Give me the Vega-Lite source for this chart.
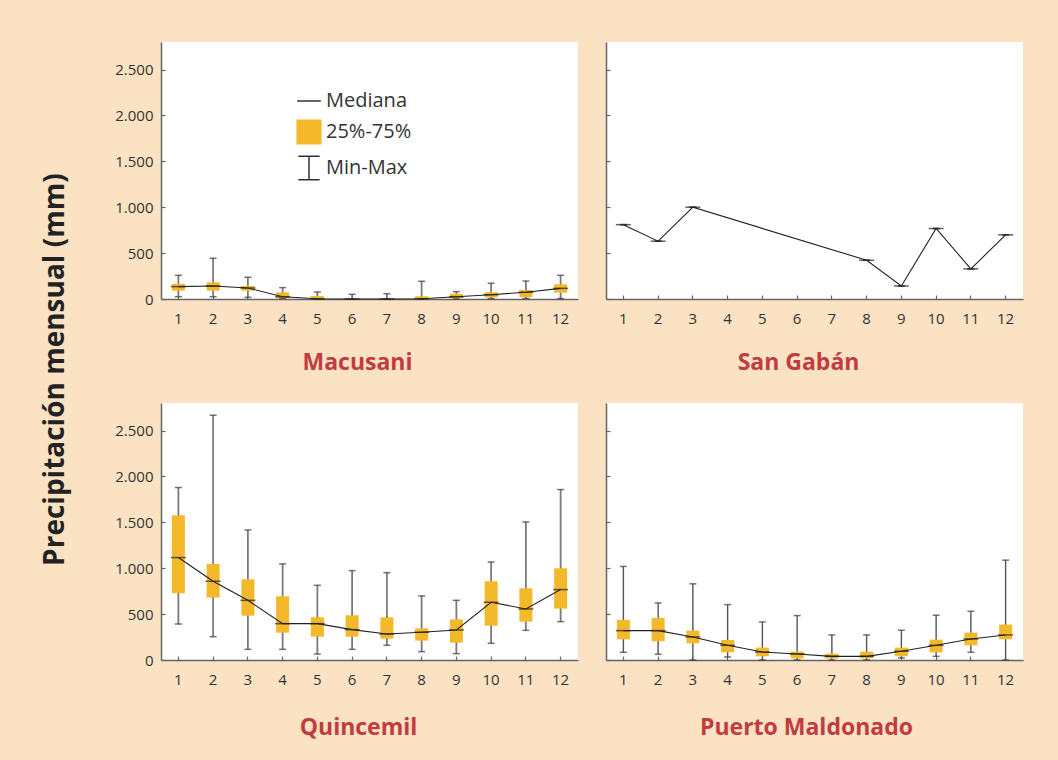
{
  "$schema": "https://vega.github.io/schema/vega-lite/v6.json",
  "background": "#FAE2C3",
  "padding": {"left": 41, "top": 39, "right": 36, "bottom": 20},
  "title": {"text": "Precipitación mensual (mm)", "orient": "left", "anchor": "middle", "fontSize": 28, "font": "Open Sans", "fontWeight": "bold", "color": "#222222", "offset": 45, "dx": 20},
  "datasets": {
    "stats": [
      {"station": "Macusani", "month": 1, "min": 25, "q1": 91, "median": 135, "q3": 164, "max": 258},
      {"station": "Macusani", "month": 2, "min": 25, "q1": 91, "median": 142, "q3": 182, "max": 444},
      {"station": "Macusani", "month": 3, "min": 18, "q1": 91, "median": 120, "q3": 142, "max": 237},
      {"station": "Macusani", "month": 4, "min": 7, "q1": 7, "median": 25, "q3": 73, "max": 124},
      {"station": "Macusani", "month": 5, "min": 0, "q1": 0, "median": 2, "q3": 33, "max": 76},
      {"station": "Macusani", "month": 6, "min": 0, "q1": 0, "median": 0, "q3": 0, "max": 51},
      {"station": "Macusani", "month": 7, "min": 0, "q1": 0, "median": 0, "q3": 0, "max": 58},
      {"station": "Macusani", "month": 8, "min": 0, "q1": 0, "median": 2, "q3": 30, "max": 193},
      {"station": "Macusani", "month": 9, "min": 0, "q1": 5, "median": 25, "q3": 55, "max": 80},
      {"station": "Macusani", "month": 10, "min": 5, "q1": 18, "median": 47, "q3": 73, "max": 171},
      {"station": "Macusani", "month": 11, "min": 5, "q1": 20, "median": 73, "q3": 98, "max": 196},
      {"station": "Macusani", "month": 12, "min": 5, "q1": 69, "median": 116, "q3": 160, "max": 258},
      {"station": "San Gabán", "month": 1, "min": 810, "q1": 810, "median": 810, "q3": 810, "max": 810},
      {"station": "San Gabán", "month": 2, "min": 630, "q1": 630, "median": 630, "q3": 630, "max": 630},
      {"station": "San Gabán", "month": 3, "min": 1000, "q1": 1000, "median": 1000, "q3": 1000, "max": 1000},
      {"station": "San Gabán", "month": 8, "min": 422, "q1": 422, "median": 422, "q3": 422, "max": 422},
      {"station": "San Gabán", "month": 9, "min": 142, "q1": 142, "median": 142, "q3": 142, "max": 142},
      {"station": "San Gabán", "month": 10, "min": 768, "q1": 768, "median": 768, "q3": 768, "max": 768},
      {"station": "San Gabán", "month": 11, "min": 328, "q1": 328, "median": 328, "q3": 328, "max": 328},
      {"station": "San Gabán", "month": 12, "min": 699, "q1": 699, "median": 699, "q3": 699, "max": 699},
      {"station": "Quincemil", "month": 1, "min": 392, "q1": 727, "median": 1116, "q3": 1577, "max": 1879},
      {"station": "Quincemil", "month": 2, "min": 254, "q1": 680, "median": 858, "q3": 1047, "max": 2667},
      {"station": "Quincemil", "month": 3, "min": 116, "q1": 483, "median": 650, "q3": 879, "max": 1417},
      {"station": "Quincemil", "month": 4, "min": 116, "q1": 298, "median": 396, "q3": 694, "max": 1047},
      {"station": "Quincemil", "month": 5, "min": 65, "q1": 254, "median": 396, "q3": 465, "max": 814},
      {"station": "Quincemil", "month": 6, "min": 116, "q1": 254, "median": 331, "q3": 487, "max": 974},
      {"station": "Quincemil", "month": 7, "min": 160, "q1": 233, "median": 283, "q3": 465, "max": 952},
      {"station": "Quincemil", "month": 8, "min": 91, "q1": 211, "median": 302, "q3": 345, "max": 698},
      {"station": "Quincemil", "month": 9, "min": 69, "q1": 189, "median": 327, "q3": 443, "max": 650},
      {"station": "Quincemil", "month": 10, "min": 182, "q1": 374, "median": 629, "q3": 858, "max": 1068},
      {"station": "Quincemil", "month": 11, "min": 323, "q1": 418, "median": 556, "q3": 781, "max": 1504},
      {"station": "Quincemil", "month": 12, "min": 418, "q1": 560, "median": 767, "q3": 999, "max": 1857},
      {"station": "Puerto Maldonado", "month": 1, "min": 84, "q1": 226, "median": 320, "q3": 437, "max": 1019},
      {"station": "Puerto Maldonado", "month": 2, "min": 62, "q1": 204, "median": 320, "q3": 458, "max": 622},
      {"station": "Puerto Maldonado", "month": 3, "min": 0, "q1": 182, "median": 251, "q3": 320, "max": 830},
      {"station": "Puerto Maldonado", "month": 4, "min": 33, "q1": 84, "median": 160, "q3": 218, "max": 604},
      {"station": "Puerto Maldonado", "month": 5, "min": 0, "q1": 40, "median": 87, "q3": 135, "max": 415},
      {"station": "Puerto Maldonado", "month": 6, "min": 0, "q1": 18, "median": 66, "q3": 91, "max": 484},
      {"station": "Puerto Maldonado", "month": 7, "min": 0, "q1": 18, "median": 40, "q3": 69, "max": 273},
      {"station": "Puerto Maldonado", "month": 8, "min": 0, "q1": 18, "median": 40, "q3": 91, "max": 273},
      {"station": "Puerto Maldonado", "month": 9, "min": 22, "q1": 40, "median": 95, "q3": 135, "max": 324},
      {"station": "Puerto Maldonado", "month": 10, "min": 40, "q1": 84, "median": 160, "q3": 222, "max": 488},
      {"station": "Puerto Maldonado", "month": 11, "min": 84, "q1": 160, "median": 229, "q3": 298, "max": 531},
      {"station": "Puerto Maldonado", "month": 12, "min": 0, "q1": 226, "median": 273, "q3": 386, "max": 1088}
    ],
    "legendItems": [
      {"item": "Mediana"},
      {"item": "25%-75%"},
      {"item": "Min-Max"}
    ]
  },
  "spacing": 28,
  "resolve": {"scale": {"shape": "independent", "stroke": "independent", "fill": "independent"}, "legend": {"shape": "independent", "stroke": "independent", "fill": "independent"}},
  "vconcat": [
    {
      "spacing": 27,
      "resolve": {"scale": {"shape": "independent", "stroke": "independent", "fill": "independent"}, "legend": {"shape": "independent", "stroke": "independent", "fill": "independent"}},
      "hconcat": [
        {
          "width": 417, "height": 257,
          "data": {"name": "stats"},
          "transform": [{"filter": "datum.station === 'Macusani'"}],
          "title": {"text": "Macusani", "dx": -12},
          "encoding": {"x": {"field": "month", "type": "ordinal", "scale": {"domain": [1,2,3,4,5,6,7,8,9,10,11,12], "paddingInner": 0, "paddingOuter": 0}, "axis": {"title": null}}},
          "layer": [
            {"mark": {"type": "rule", "color": "#7a7a7a", "strokeWidth": 1.8}, "encoding": {"y": {"field": "min", "type": "quantitative", "scale": {"domain": [0, 2800], "nice": false}, "axis": {"title": null, "values": [0,500,1000,1500,2000,2500], "labelExpr": "replace(format(datum.value, ','), ',', '.')"}}, "y2": {"field": "max"}}},
            {"mark": {"type": "bar", "color": "#F3B92A", "size": 13}, "encoding": {"y": {"field": "q1", "type": "quantitative"}, "y2": {"field": "q3"}}},
            {"mark": {"type": "tick", "color": "#3a3a3a", "size": 7, "thickness": 1.5}, "encoding": {"y": {"field": "min", "type": "quantitative"}}},
            {"mark": {"type": "tick", "color": "#3a3a3a", "size": 7, "thickness": 1.5}, "encoding": {"y": {"field": "max", "type": "quantitative"}}},
            {"mark": {"type": "line", "color": "#222222", "strokeWidth": 1.1}, "encoding": {"y": {"field": "median", "type": "quantitative"}}},
            {"mark": {"type": "tick", "color": "#222222", "size": 15, "thickness": 1.5}, "encoding": {"y": {"field": "median", "type": "quantitative"}}},
            {
              "data": {"name": "legendItems"},
              "mark": {"type": "point", "opacity": 0, "filled": true, "strokeWidth": 1.5},
              "encoding": {
                "x": {"value": 0},
                "y": {"value": 0},
                "shape": {
                  "field": "item", "type": "nominal",
                  "scale": {"domain": ["Mediana", "25%-75%", "Min-Max"], "range": ["M-1,0L1,0", "square", "M-0.9,-1L0.9,-1M0,-1L0,1M-0.9,1L0.9,1"]},
                  "legend": {
                    "orient": "none", "legendX": 135, "legendY": 46, "title": null, "padding": 0,
                    "symbolSize": 560, "symbolStrokeWidth": 1.5, "symbolOpacity": 1,
                    "labelFont": "Open Sans", "labelFontSize": 20, "labelColor": "#333333", "labelOffset": 4,
                    "rowPadding": 6
                  }
                },
                "stroke": {
                  "field": "item", "type": "nominal",
                  "scale": {"domain": ["Mediana", "25%-75%", "Min-Max"], "range": ["#333333", "#F3B92A", "#333333"]}
                },
                "fill": {
                  "field": "item", "type": "nominal",
                  "scale": {"domain": ["Mediana", "25%-75%", "Min-Max"], "range": ["transparent", "#F3B92A", "transparent"]}
                }
              }
            }
          ]
        },
        {
          "width": 417, "height": 257,
          "data": {"name": "stats"},
          "transform": [{"filter": "datum.station === 'San Gabán'"}],
          "title": {"text": "San Gabán", "dx": -16},
          "encoding": {"x": {"field": "month", "type": "ordinal", "scale": {"domain": [1,2,3,4,5,6,7,8,9,10,11,12], "paddingInner": 0, "paddingOuter": 0}, "axis": {"title": null}}},
          "layer": [
            {"mark": {"type": "rule", "color": "#7a7a7a", "strokeWidth": 1.8}, "encoding": {"y": {"field": "min", "type": "quantitative", "scale": {"domain": [0, 2800], "nice": false}, "axis": {"title": null, "labels": false, "values": [0,500,1000,1500,2000,2500]}}, "y2": {"field": "max"}}},
            {"mark": {"type": "bar", "color": "#F3B92A", "size": 13}, "encoding": {"y": {"field": "q1", "type": "quantitative"}, "y2": {"field": "q3"}}},
            {"mark": {"type": "tick", "color": "#3a3a3a", "size": 7, "thickness": 1.5}, "encoding": {"y": {"field": "min", "type": "quantitative"}}},
            {"mark": {"type": "tick", "color": "#3a3a3a", "size": 7, "thickness": 1.5}, "encoding": {"y": {"field": "max", "type": "quantitative"}}},
            {"mark": {"type": "line", "color": "#222222", "strokeWidth": 1.1}, "encoding": {"y": {"field": "median", "type": "quantitative"}}},
            {"mark": {"type": "tick", "color": "#222222", "size": 15, "thickness": 1.5}, "encoding": {"y": {"field": "median", "type": "quantitative"}}}
          ]
        }
      ]
    },
    {
      "spacing": 27,
      "hconcat": [
        {
          "width": 417, "height": 257,
          "data": {"name": "stats"},
          "transform": [{"filter": "datum.station === 'Quincemil'"}],
          "title": {"text": "Quincemil", "dx": -11, "offset": 30},
          "encoding": {"x": {"field": "month", "type": "ordinal", "scale": {"domain": [1,2,3,4,5,6,7,8,9,10,11,12], "paddingInner": 0, "paddingOuter": 0}, "axis": {"title": null}}},
          "layer": [
            {"mark": {"type": "rule", "color": "#7a7a7a", "strokeWidth": 1.8}, "encoding": {"y": {"field": "min", "type": "quantitative", "scale": {"domain": [0, 2800], "nice": false}, "axis": {"title": null, "values": [0,500,1000,1500,2000,2500], "labelExpr": "replace(format(datum.value, ','), ',', '.')"}}, "y2": {"field": "max"}}},
            {"mark": {"type": "bar", "color": "#F3B92A", "size": 13}, "encoding": {"y": {"field": "q1", "type": "quantitative"}, "y2": {"field": "q3"}}},
            {"mark": {"type": "tick", "color": "#3a3a3a", "size": 7, "thickness": 1.5}, "encoding": {"y": {"field": "min", "type": "quantitative"}}},
            {"mark": {"type": "tick", "color": "#3a3a3a", "size": 7, "thickness": 1.5}, "encoding": {"y": {"field": "max", "type": "quantitative"}}},
            {"mark": {"type": "line", "color": "#222222", "strokeWidth": 1.1}, "encoding": {"y": {"field": "median", "type": "quantitative"}}},
            {"mark": {"type": "tick", "color": "#222222", "size": 15, "thickness": 1.5}, "encoding": {"y": {"field": "median", "type": "quantitative"}}}
          ]
        },
        {
          "width": 417, "height": 257,
          "data": {"name": "stats"},
          "transform": [{"filter": "datum.station === 'Puerto Maldonado'"}],
          "title": {"text": "Puerto Maldonado", "dx": -8, "offset": 30},
          "encoding": {"x": {"field": "month", "type": "ordinal", "scale": {"domain": [1,2,3,4,5,6,7,8,9,10,11,12], "paddingInner": 0, "paddingOuter": 0}, "axis": {"title": null}}},
          "layer": [
            {"mark": {"type": "rule", "color": "#555555", "strokeWidth": 1.4}, "encoding": {"y": {"field": "min", "type": "quantitative", "scale": {"domain": [0, 2800], "nice": false}, "axis": {"title": null, "labels": false, "values": [0,500,1000,1500,2000,2500]}}, "y2": {"field": "max"}}},
            {"mark": {"type": "bar", "color": "#F3B92A", "size": 13}, "encoding": {"y": {"field": "q1", "type": "quantitative"}, "y2": {"field": "q3"}}},
            {"mark": {"type": "tick", "color": "#3a3a3a", "size": 7, "thickness": 1.5}, "encoding": {"y": {"field": "min", "type": "quantitative"}}},
            {"mark": {"type": "tick", "color": "#3a3a3a", "size": 7, "thickness": 1.5}, "encoding": {"y": {"field": "max", "type": "quantitative"}}},
            {"mark": {"type": "line", "color": "#222222", "strokeWidth": 1.1}, "encoding": {"y": {"field": "median", "type": "quantitative"}}},
            {"mark": {"type": "tick", "color": "#222222", "size": 15, "thickness": 1.5}, "encoding": {"y": {"field": "median", "type": "quantitative"}}}
          ]
        }
      ]
    }
  ],
  "config": {
    "view": {"fill": "white", "stroke": null},
    "axis": {"labelFont": "Open Sans", "labelFontSize": 15, "labelColor": "#333333", "domainColor": "#666666", "domainWidth": 1.5, "tickColor": "#666666", "tickWidth": 1.2, "tickSize": -4, "grid": false},
    "axisX": {"labelPadding": 16, "labelAngle": 0},
    "axisY": {"labelPadding": 12},
    "title": {"font": "Open Sans", "fontSize": 23, "fontWeight": "bold", "color": "#C23B40", "orient": "bottom", "anchor": "middle", "offset": 26}
  }
}
